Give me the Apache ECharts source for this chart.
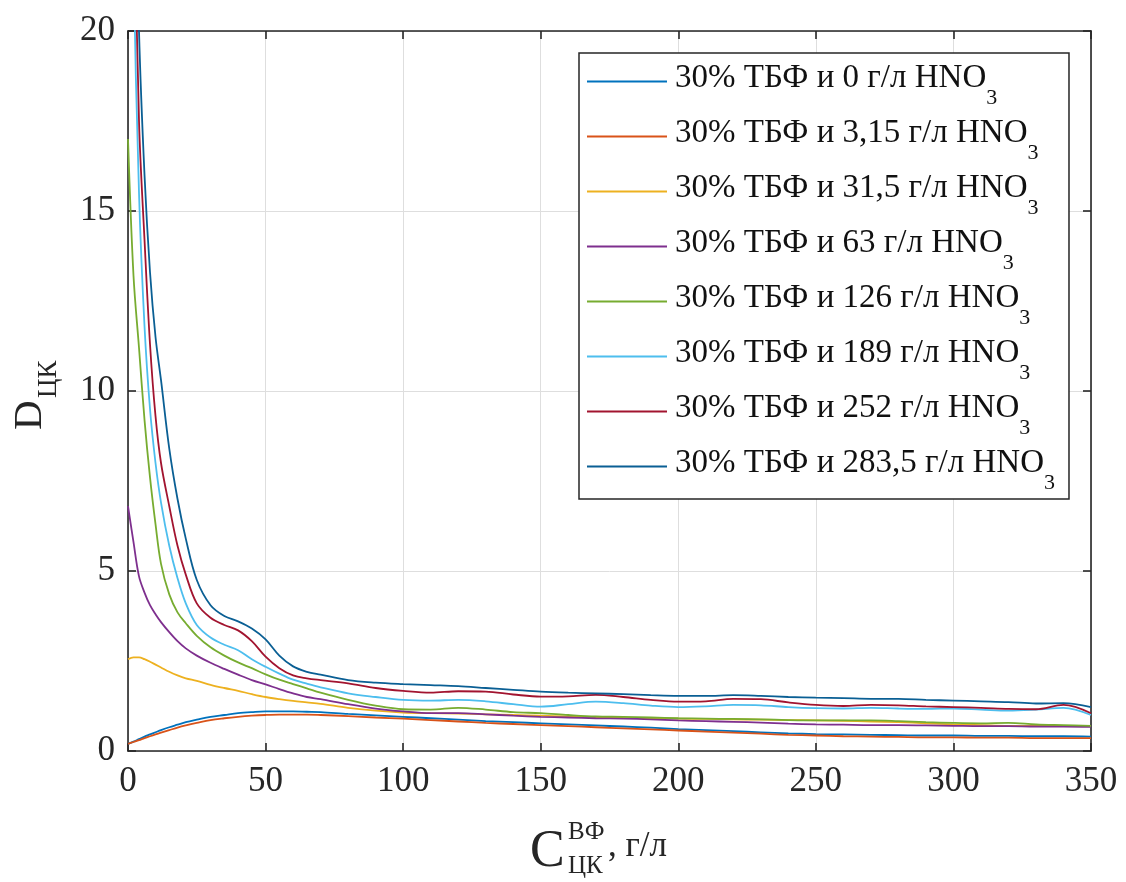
<!DOCTYPE html>
<html>
<head>
<meta charset="utf-8">
<script src="https://cdn.jsdelivr.net/npm/echarts@6/dist/echarts.min.js"></script>
<style>
  html, body { margin: 0; padding: 0; background: #ffffff; }
  #chart { width: 1126px; height: 882px; }
</style>
</head>
<body>
<div id="chart"></div>
<script>
// Concentration of the metal in the aqueous phase, g/l (shared x grid)
const xValues = [0, 2, 4, 6, 8, 10, 12, 15, 18, 21, 25, 30, 35, 40, 45, 50, 55, 60, 65, 70,
  80, 90, 100, 110, 120, 130, 140, 150, 160, 170, 180, 190, 200, 210, 220, 230, 240, 250,
  260, 270, 280, 290, 300, 310, 320, 330, 340, 350];

// HNO3 concentrations used in the legend, g/l
const acidLabels = ['0', '3,15', '31,5', '63', '126', '189', '252', '283,5'];

// Distribution coefficient D for each acid concentration
const dAcid0 = [0.2, 0.26, 0.33, 0.4, 0.46, 0.52, 0.58, 0.66, 0.73, 0.8, 0.87, 0.95, 1.0, 1.05, 1.08, 1.1, 1.1, 1.1, 1.09, 1.08,
  1.03, 0.99, 0.95, 0.91, 0.87, 0.83, 0.8, 0.77, 0.74, 0.71, 0.68, 0.65, 0.61, 0.58, 0.55, 0.52, 0.49, 0.47,
  0.46, 0.45, 0.44, 0.43, 0.43, 0.42, 0.42, 0.41, 0.41, 0.4];
const dAcid3_15 = [0.2, 0.25, 0.3, 0.36, 0.41, 0.46, 0.51, 0.58, 0.65, 0.71, 0.78, 0.86, 0.91, 0.95, 0.98, 1.0, 1.01, 1.01, 1.01, 1.0,
  0.97, 0.93, 0.9, 0.86, 0.82, 0.78, 0.75, 0.72, 0.69, 0.66, 0.63, 0.6, 0.57, 0.54, 0.51, 0.48, 0.45, 0.43,
  0.41, 0.4, 0.39, 0.38, 0.38, 0.37, 0.37, 0.36, 0.36, 0.36];
const dAcid31_5 = [2.55, 2.6, 2.6, 2.55, 2.48, 2.4, 2.32, 2.2, 2.1, 2.02, 1.95, 1.84, 1.75, 1.67, 1.58, 1.5, 1.44, 1.39, 1.35, 1.31,
  1.2, 1.12, 1.07, 1.05, 1.04, 1.02, 1.0, 0.98, 0.96, 0.94, 0.92, 0.91, 0.9, 0.89, 0.88, 0.87, 0.86, 0.85,
  0.84, 0.82, 0.8, 0.77, 0.74, 0.72, 0.7, 0.7, 0.7, 0.7];
const dAcid63 = [6.8, 5.8, 4.85, 4.4, 4.05, 3.8, 3.58, 3.3, 3.05, 2.85, 2.65, 2.45, 2.28, 2.12, 1.97, 1.85, 1.72, 1.6, 1.5, 1.44,
  1.3, 1.18, 1.1, 1.05, 1.05, 1.02, 0.98, 0.95, 0.93, 0.91, 0.9, 0.88, 0.85, 0.83, 0.81, 0.79, 0.76, 0.74,
  0.73, 0.72, 0.72, 0.71, 0.7, 0.69, 0.69, 0.68, 0.68, 0.67];
const dAcid126 = [17, 13.2, 11.2, 9.2, 7.6, 6.3, 5.2, 4.35, 3.85, 3.55, 3.2, 2.88, 2.65, 2.46, 2.3, 2.13, 1.98, 1.86, 1.74, 1.62,
  1.42, 1.26, 1.16, 1.15, 1.2, 1.15, 1.08, 1.05, 1.0, 0.96, 0.95, 0.93, 0.91, 0.9, 0.89, 0.88, 0.86, 0.85,
  0.85, 0.85, 0.83, 0.8, 0.78, 0.77, 0.78, 0.74, 0.72, 0.7];
const dAcid189 = [35, 22, 15.5, 11.8, 9.5, 8.0, 6.9, 5.7, 4.8, 4.1, 3.5, 3.15, 2.95, 2.8, 2.55, 2.34, 2.15, 1.98, 1.87, 1.77,
  1.6, 1.5, 1.42, 1.4, 1.42, 1.38, 1.3, 1.23, 1.3, 1.37, 1.33, 1.26, 1.22, 1.24, 1.28, 1.27, 1.22, 1.19,
  1.18, 1.2, 1.18, 1.17, 1.18, 1.15, 1.12, 1.15, 1.2, 1.0];
const dAcid252 = [38, 25, 17.5, 14.2, 11.3, 9.3, 8.0, 6.8, 5.7, 4.9, 4.1, 3.7, 3.5, 3.35, 3.05, 2.62, 2.3, 2.1, 2.02, 1.97,
  1.88, 1.75, 1.67, 1.62, 1.66, 1.65, 1.57, 1.51, 1.52, 1.56, 1.5, 1.42, 1.37, 1.38, 1.45, 1.44, 1.35, 1.28,
  1.25, 1.28, 1.27, 1.24, 1.22, 1.2, 1.17, 1.16, 1.28, 1.05];
const dAcid283_5 = [40, 27, 20, 16, 13.3, 11.5, 10.3, 8.4, 7.0, 5.9, 4.75, 4.05, 3.75, 3.6, 3.4, 3.1, 2.65, 2.35, 2.2, 2.12,
  1.97, 1.9, 1.86, 1.83, 1.8, 1.75, 1.7, 1.65, 1.62, 1.6, 1.58, 1.55, 1.53, 1.53, 1.55, 1.53, 1.5, 1.48,
  1.47, 1.45, 1.45, 1.42, 1.4, 1.38, 1.36, 1.32, 1.33, 1.22];

const xTicks = { min: 0, max: 350, step: 50 };
const yTicks = { min: 0, max: 20, step: 5 };

const seriesValues = [dAcid0, dAcid3_15, dAcid31_5, dAcid63, dAcid126, dAcid189, dAcid252, dAcid283_5];
const lineColors = ['#0072BD', '#D95319', '#EDB120', '#7E2F8E', '#77AC30', '#4DBEEE', '#A2142F', '#0a5f94'];

const serif = '"Liberation Serif", "Times New Roman", serif';
const ink = '#262626';

const seriesName = (acid) => '30% ТБФ и ' + acid + ' г/л HNO3';

const series = seriesValues.map((vals, i) => ({
  name: seriesName(acidLabels[i]),
  type: 'line',
  data: xValues.map((x, j) => [x, vals[j]]),
  showSymbol: false,
  symbol: 'none',
  smooth: 0.35,
  clip: true,
  lineStyle: { width: 1.8, color: lineColors[i] },
  itemStyle: { color: lineColors[i] },
  z: 2 + i
}));

const axisCommon = {
  axisLine: { show: true, onZero: false, lineStyle: { color: ink, width: 1.6 } },
  axisTick: { show: true, inside: true, length: 8, lineStyle: { color: ink, width: 1.6 } },
  axisLabel: { fontFamily: serif, fontSize: 35, color: ink }
};

const chart = echarts.init(document.getElementById('chart'), null, { renderer: 'canvas' });

chart.setOption({
  animation: false,
  backgroundColor: '#ffffff',
  grid: { left: 128, right: 35, top: 31, bottom: 131, containLabel: false },
  xAxis: [
    Object.assign({}, axisCommon, {
      type: 'value', position: 'bottom', min: xTicks.min, max: xTicks.max, interval: xTicks.step,
      axisLabel: Object.assign({}, axisCommon.axisLabel, { margin: 13 }),
      splitLine: { show: true, lineStyle: { color: '#dedede', width: 1 } }
    }),
    Object.assign({}, axisCommon, {
      type: 'value', position: 'top', min: xTicks.min, max: xTicks.max, interval: xTicks.step,
      axisLabel: { show: false }, splitLine: { show: false }
    })
  ],
  yAxis: [
    Object.assign({}, axisCommon, {
      type: 'value', position: 'left', min: yTicks.min, max: yTicks.max, interval: yTicks.step,
      axisLabel: Object.assign({}, axisCommon.axisLabel, { margin: 13 }),
      splitLine: { show: true, lineStyle: { color: '#dedede', width: 1 } }
    }),
    Object.assign({}, axisCommon, {
      type: 'value', position: 'right', min: yTicks.min, max: yTicks.max, interval: yTicks.step,
      axisLabel: { show: false }, splitLine: { show: false }
    })
  ],
  legend: {
    orient: 'vertical',
    left: 579,
    top: 53,
    padding: [9, 14, 5, 8],
    itemGap: 8,
    itemWidth: 80,
    itemHeight: 2,
    icon: 'rect',
    backgroundColor: '#ffffff',
    borderColor: ink,
    borderWidth: 1.5,
    borderRadius: 0,
    data: series.map(s => s.name),
    formatter: (name) => '{t|' + name.slice(0, -1) + '}{s|3}',
    textStyle: {
      color: '#111111',
      rich: {
        t: { fontFamily: serif, fontSize: 33, lineHeight: 39, color: '#111111',
             verticalAlign: 'top', padding: [0, 0, 0, 3] },
        s: { fontFamily: serif, fontSize: 22, lineHeight: 22, color: '#111111',
             verticalAlign: 'top', padding: [25, 0, 0, 0] }
      }
    }
  },
  graphic: [
    // x-axis title: C with superscript ВФ and subscript ЦК, then ", г/л"
    { type: 'text', x: 530, y: 878, silent: true,
      style: { text: 'C', fontFamily: serif, fontSize: 52, fill: ink, align: 'left', verticalAlign: 'bottom' } },
    { type: 'text', x: 568, y: 845, silent: true,
      style: { text: 'ВФ', fontFamily: serif, fontSize: 25, fill: ink, align: 'left', verticalAlign: 'bottom' } },
    { type: 'text', x: 568, y: 879, silent: true,
      style: { text: 'ЦК', fontFamily: serif, fontSize: 25, fill: ink, align: 'left', verticalAlign: 'bottom' } },
    { type: 'text', x: 608, y: 864, silent: true,
      style: { text: ', г/л', fontFamily: serif, fontSize: 35, fill: ink, align: 'left', verticalAlign: 'bottom' } },
    // y-axis title: D with subscript ЦК, reading bottom to top
    { type: 'group', x: 0, y: 430, rotation: Math.PI / 2, silent: true,
      children: [
        { type: 'text', x: 0, y: 51,
          style: { text: 'D', fontFamily: serif, fontSize: 41, fill: ink, align: 'left', verticalAlign: 'bottom' } },
        { type: 'text', x: 32, y: 62,
          style: { text: 'ЦК', fontFamily: serif, fontSize: 27, fill: ink, align: 'left', verticalAlign: 'bottom' } }
      ] }
  ],
  series: series
});
</script>
</body>
</html>
